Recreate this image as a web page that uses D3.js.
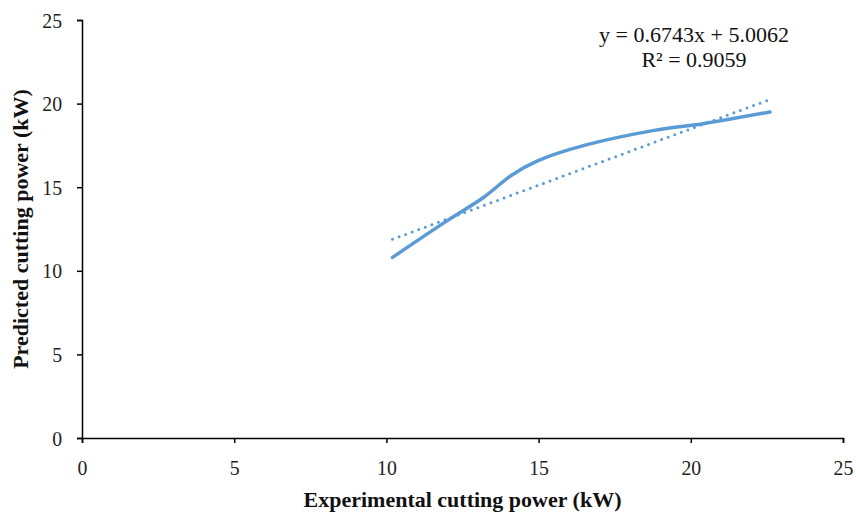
<!DOCTYPE html>
<html>
<head>
<meta charset="utf-8">
<script src="https://cdn.jsdelivr.net/npm/d3@7"></script>
<style>
  html, body { margin: 0; padding: 0; background: #fff; }
  svg { display: block; font-family: "Liberation Serif", "Times New Roman", serif; }
</style>
</head>
<body>
<svg id="chart" width="856" height="516"></svg>
<script>
// Experimental vs predicted cutting power (kW)
const experimental = [10.2, 12.0, 13.2, 14.1, 15.0, 16.5, 18.8, 20.4, 22.6];
const predicted    = [10.8, 13.0, 14.4, 15.7, 16.6, 17.5, 18.4, 18.8, 19.5];

// Linear trendline reported for the series
const trendSlope = 0.6743;
const trendIntercept = 5.0062;
const rSquared = 0.9059;

const xTicks = [0, 5, 10, 15, 20, 25];
const yTicks = [0, 5, 10, 15, 20, 25];

const xTitle = "Experimental cutting power (kW)";
const yTitle = "Predicted cutting power (kW)";

const svg = d3.select("#chart");
const margin = { left: 82, right: 13, top: 20, bottom: 78 };
const width = 856, height = 516;

const x = d3.scaleLinear().domain([0, 25]).range([margin.left, width - margin.right]);
const y = d3.scaleLinear().domain([0, 25]).range([height - margin.bottom, margin.top]);

const blue = "#5B9BD5";

// Axes
const xAxis = d3.axisBottom(x).tickValues(xTicks).tickSize(5).tickPadding(16);
const yAxis = d3.axisLeft(y).tickValues(yTicks).tickSize(5).tickPadding(15);

const gx = svg.append("g")
  .attr("transform", `translate(0,${y(0)})`)
  .call(xAxis);
const gy = svg.append("g")
  .attr("transform", `translate(${x(0)},0)`)
  .call(yAxis);

// Tick labels: narrow, tall serif digits
const sx = 0.9;
[gx, gy].forEach(g => {
  g.select(".domain").attr("stroke", "#000").attr("stroke-width", 1.5);
  g.selectAll(".tick line").attr("stroke", "#000").attr("stroke-width", 1.5);
  g.selectAll(".tick text")
    .attr("font-family", "Liberation Serif, Times New Roman, serif")
    .attr("font-size", 22)
    .attr("fill", "#222")
    .attr("x", function () { return (+d3.select(this).attr("x") || 0) / sx; })
    .attr("transform", `scale(${sx},1)`);
});

// Axis titles
svg.append("text")
  .attr("x", (x(0) + x(25)) / 2)
  .attr("y", 507)
  .attr("text-anchor", "middle")
  .attr("font-weight", "bold")
  .attr("font-size", 22)
  .attr("fill", "#111")
  .text(xTitle);

svg.append("text")
  .attr("transform", `translate(28,${(y(0) + y(25)) / 2}) rotate(-90)`)
  .attr("text-anchor", "middle")
  .attr("font-weight", "bold")
  .attr("font-size", 22)
  .attr("fill", "#111")
  .text(yTitle);

// Trendline (dotted) over the range of the data
const xExtent = d3.extent(experimental);
const trendPts = xExtent.map(v => [v, trendSlope * v + trendIntercept]);
svg.append("path")
  .datum(trendPts)
  .attr("fill", "none")
  .attr("stroke", blue)
  .attr("stroke-width", 3)
  .attr("stroke-linecap", "round")
  .attr("stroke-dasharray", "0,7")
  .attr("d", d3.line().x(d => x(d[0])).y(d => y(d[1])));

// Smoothed data series
const pts = experimental.map((v, i) => [v, predicted[i]]);
svg.append("path")
  .datum(pts)
  .attr("fill", "none")
  .attr("stroke", blue)
  .attr("stroke-width", 3.5)
  .attr("stroke-linecap", "round")
  .attr("d", d3.line().curve(d3.curveCatmullRom.alpha(0.5)).x(d => x(d[0])).y(d => y(d[1])));

// Trendline equation
const eq = svg.append("g").attr("font-size", 22).attr("fill", "#111").attr("text-anchor", "middle");
eq.append("text")
  .attr("x", 694).attr("y", 42)
  .text(`y = ${trendSlope}x + ${trendIntercept.toFixed(4)}`);
eq.append("text")
  .attr("x", 694).attr("y", 67)
  .text(`R² = ${rSquared}`);
</script>
</body>
</html>
